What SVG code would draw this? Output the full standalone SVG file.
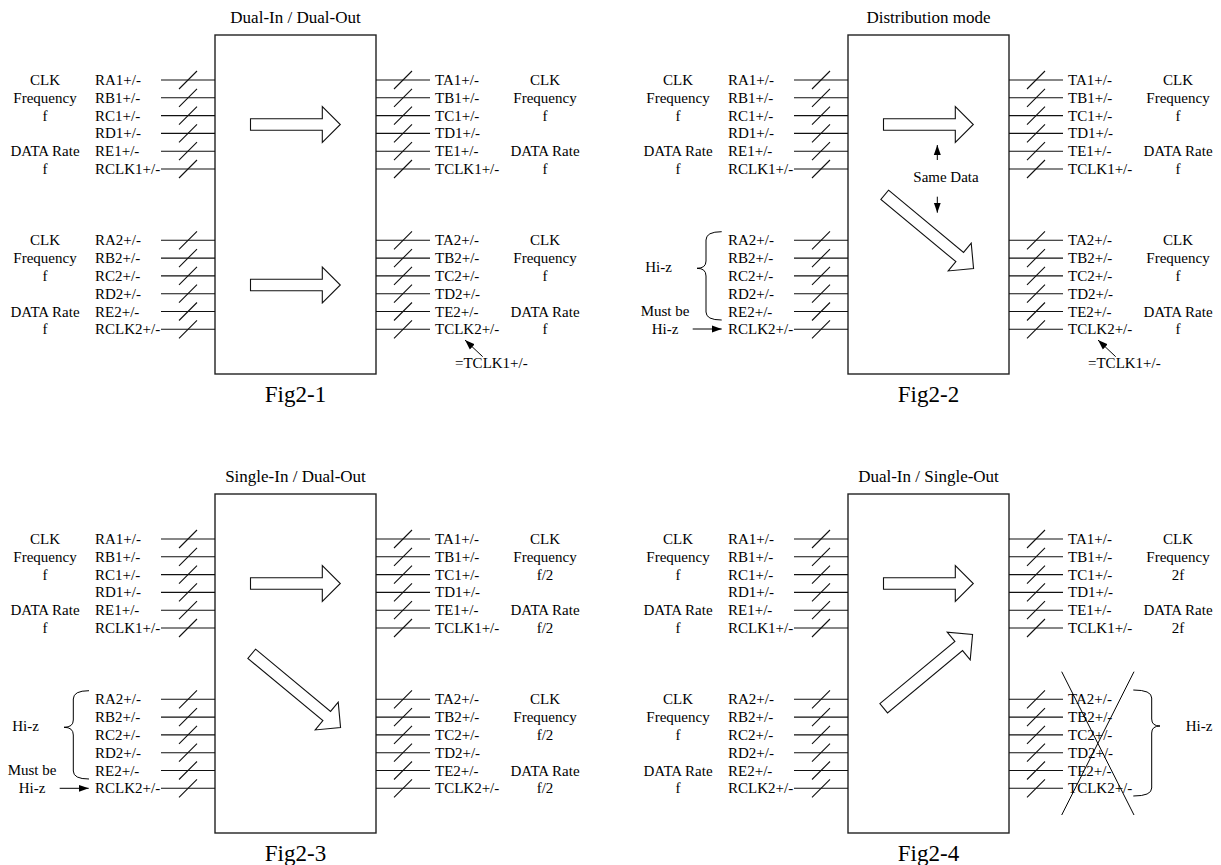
<svg xmlns="http://www.w3.org/2000/svg" xmlns:xlink="http://www.w3.org/1999/xlink" width="1221" height="865" viewBox="0 0 1221 865">
<style>
text{font-family:"Liberation Serif","Times New Roman",serif;fill:#000}
.lb{font-size:15px}
.c{text-anchor:middle}
.tt{font-size:17px;text-anchor:middle}
.fg{font-size:23px;text-anchor:middle}
.box{fill:#fff;stroke:#222;stroke-width:1.4}
.w{stroke:#111;stroke-width:1.1;fill:none}
.big{fill:#fff;stroke:#111;stroke-width:1.1}
.pt{stroke:#000;stroke-width:1;fill:none}
</style>
<defs>
<marker id="ah" viewBox="0 0 10 10" refX="10" refY="5" markerWidth="10" markerHeight="10" markerUnits="userSpaceOnUse" orient="auto"><path d="M0,1.5 L10,5 L0,8.5 Z" fill="#000"/></marker>
<g id="bus">
<path class="w" d="M0,0H54M0,17.8H54M0,35.6H54M0,53.4H54M0,71.2H54M0,89H54"/>
<path class="w" d="M18,9L36,-9M18,26.8L36,8.8M18,44.6L36,26.6M18,62.4L36,44.4M18,80.2L36,62.2M18,98L36,80"/>
</g>
<path id="harrow" class="big" d="M0,-5.8H71.8V-18L89.8,0L71.8,18V5.8H0Z"/>
<path id="darrow" class="big" d="M0,-6H97.5V-18L115.5,0L97.5,18V6H0Z"/>
</defs>

<!-- Fig2-1 -->
<g id="fig2-1">
<text class="tt" x="295.5" y="23">Dual-In / Dual-Out</text>
<rect id="box1" class="box" x="215" y="35" width="161" height="339"/>
<use xlink:href="#harrow" x="250.5" y="124.5"/>
<use xlink:href="#harrow" x="250.5" y="285"/>
<g class="lb">
<text x="95" y="85">RA1+/-</text><text x="95" y="102.8">RB1+/-</text><text x="95" y="120.6">RC1+/-</text><text x="95" y="138.4">RD1+/-</text><text x="95" y="156.2">RE1+/-</text><text x="95" y="174">RCLK1+/-</text>
<text x="95" y="245.3">RA2+/-</text><text x="95" y="263.1">RB2+/-</text><text x="95" y="280.9">RC2+/-</text><text x="95" y="298.7">RD2+/-</text><text x="95" y="316.5">RE2+/-</text><text x="95" y="334.3">RCLK2+/-</text>
<text x="435" y="85">TA1+/-</text><text x="435" y="102.8">TB1+/-</text><text x="435" y="120.6">TC1+/-</text><text x="435" y="138.4">TD1+/-</text><text x="435" y="156.2">TE1+/-</text><text x="435" y="174">TCLK1+/-</text>
<text x="435" y="245.3">TA2+/-</text><text x="435" y="263.1">TB2+/-</text><text x="435" y="280.9">TC2+/-</text><text x="435" y="298.7">TD2+/-</text><text x="435" y="316.5">TE2+/-</text><text x="435" y="334.3">TCLK2+/-</text>
<g class="c">
<text x="45" y="85">CLK</text><text x="45" y="102.8">Frequency</text><text x="45" y="120.6">f</text><text x="45" y="156.2">DATA Rate</text><text x="45" y="174">f</text>
<text x="45" y="245.3">CLK</text><text x="45" y="263.1">Frequency</text><text x="45" y="280.9">f</text><text x="45" y="316.5">DATA Rate</text><text x="45" y="334.3">f</text>
<text x="545" y="85">CLK</text><text x="545" y="102.8">Frequency</text><text x="545" y="120.6">f</text><text x="545" y="156.2">DATA Rate</text><text x="545" y="174">f</text>
<text x="545" y="245.3">CLK</text><text x="545" y="263.1">Frequency</text><text x="545" y="280.9">f</text><text x="545" y="316.5">DATA Rate</text><text x="545" y="334.3">f</text>
</g>
<text x="455" y="368.3">=TCLK1+/-</text>
</g>
<text class="fg" x="295.5" y="401.7">Fig2-1</text>
</g>

<!-- Fig2-2 -->
<g id="fig2-2">
<text class="tt" x="928.5" y="23">Distribution mode</text>
<rect id="box2" class="box" x="848" y="35" width="161" height="339"/>
<use xlink:href="#harrow" x="883.5" y="124.5"/>
<use xlink:href="#darrow" transform="translate(884.7,194.8) rotate(39.7)"/>
<path class="pt" d="M721.7,231.7Q706,231.7 706,240V261Q706,268.3 697,268.3Q706,268.3 706,276V312Q706,320 721.7,320"/>
<g class="lb">
<text class="c" x="946" y="181.7">Same Data</text>
<text x="728" y="85">RA1+/-</text><text x="728" y="102.8">RB1+/-</text><text x="728" y="120.6">RC1+/-</text><text x="728" y="138.4">RD1+/-</text><text x="728" y="156.2">RE1+/-</text><text x="728" y="174">RCLK1+/-</text>
<text x="728" y="245.3">RA2+/-</text><text x="728" y="263.1">RB2+/-</text><text x="728" y="280.9">RC2+/-</text><text x="728" y="298.7">RD2+/-</text><text x="728" y="316.5">RE2+/-</text><text x="728" y="334.3">RCLK2+/-</text>
<text x="1068" y="85">TA1+/-</text><text x="1068" y="102.8">TB1+/-</text><text x="1068" y="120.6">TC1+/-</text><text x="1068" y="138.4">TD1+/-</text><text x="1068" y="156.2">TE1+/-</text><text x="1068" y="174">TCLK1+/-</text>
<text x="1068" y="245.3">TA2+/-</text><text x="1068" y="263.1">TB2+/-</text><text x="1068" y="280.9">TC2+/-</text><text x="1068" y="298.7">TD2+/-</text><text x="1068" y="316.5">TE2+/-</text><text x="1068" y="334.3">TCLK2+/-</text>
<g class="c">
<text x="678" y="85">CLK</text><text x="678" y="102.8">Frequency</text><text x="678" y="120.6">f</text><text x="678" y="156.2">DATA Rate</text><text x="678" y="174">f</text>
<text x="658.5" y="271.5">Hi-z</text><text x="665" y="315.5">Must be</text><text x="665" y="334">Hi-z</text>
<text x="1178" y="85">CLK</text><text x="1178" y="102.8">Frequency</text><text x="1178" y="120.6">f</text><text x="1178" y="156.2">DATA Rate</text><text x="1178" y="174">f</text>
<text x="1178" y="245.3">CLK</text><text x="1178" y="263.1">Frequency</text><text x="1178" y="280.9">f</text><text x="1178" y="316.5">DATA Rate</text><text x="1178" y="334.3">f</text>
</g>
<text x="1088" y="368.3">=TCLK1+/-</text>
</g>
<text class="fg" x="928.5" y="401.7">Fig2-2</text>
</g>

<!-- Fig2-3 -->
<g id="fig2-3">
<text class="tt" x="295.5" y="482">Single-In / Dual-Out</text>
<rect id="box3" class="box" x="215" y="494" width="161" height="339"/>
<use xlink:href="#harrow" x="250.5" y="583.5"/>
<use xlink:href="#darrow" transform="translate(251.7,653.8) rotate(39.7)"/>
<path class="pt" d="M89,690.7Q73.3,690.7 73.3,699V720Q73.3,727.3 64,727.3Q73.3,727.3 73.3,735V771Q73.3,779 89,779"/>
<g class="lb">
<text x="95" y="544">RA1+/-</text><text x="95" y="561.8">RB1+/-</text><text x="95" y="579.6">RC1+/-</text><text x="95" y="597.4">RD1+/-</text><text x="95" y="615.2">RE1+/-</text><text x="95" y="633">RCLK1+/-</text>
<text x="95" y="704.3">RA2+/-</text><text x="95" y="722.1">RB2+/-</text><text x="95" y="739.9">RC2+/-</text><text x="95" y="757.7">RD2+/-</text><text x="95" y="775.5">RE2+/-</text><text x="95" y="793.3">RCLK2+/-</text>
<text x="435" y="544">TA1+/-</text><text x="435" y="561.8">TB1+/-</text><text x="435" y="579.6">TC1+/-</text><text x="435" y="597.4">TD1+/-</text><text x="435" y="615.2">TE1+/-</text><text x="435" y="633">TCLK1+/-</text>
<text x="435" y="704.3">TA2+/-</text><text x="435" y="722.1">TB2+/-</text><text x="435" y="739.9">TC2+/-</text><text x="435" y="757.7">TD2+/-</text><text x="435" y="775.5">TE2+/-</text><text x="435" y="793.3">TCLK2+/-</text>
<g class="c">
<text x="45" y="544">CLK</text><text x="45" y="561.8">Frequency</text><text x="45" y="579.6">f</text><text x="45" y="615.2">DATA Rate</text><text x="45" y="633">f</text>
<text x="25.5" y="730.5">Hi-z</text><text x="32" y="774.5">Must be</text><text x="32" y="793">Hi-z</text>
<text x="545" y="544">CLK</text><text x="545" y="561.8">Frequency</text><text x="545" y="579.6">f/2</text><text x="545" y="615.2">DATA Rate</text><text x="545" y="633">f/2</text>
<text x="545" y="704.3">CLK</text><text x="545" y="722.1">Frequency</text><text x="545" y="739.9">f/2</text><text x="545" y="775.5">DATA Rate</text><text x="545" y="793.3">f/2</text>
</g>
</g>
<text class="fg" x="295.5" y="860.7">Fig2-3</text>
</g>

<!-- Fig2-4 -->
<g id="fig2-4">
<text class="tt" x="928.5" y="482">Dual-In / Single-Out</text>
<rect id="box4" class="box" x="848" y="494" width="161" height="339"/>
<use xlink:href="#harrow" x="883.5" y="583.5"/>
<use xlink:href="#darrow" transform="translate(883.7,708.3) rotate(-39.7)"/>
<g class="lb">
<text x="728" y="544">RA1+/-</text><text x="728" y="561.8">RB1+/-</text><text x="728" y="579.6">RC1+/-</text><text x="728" y="597.4">RD1+/-</text><text x="728" y="615.2">RE1+/-</text><text x="728" y="633">RCLK1+/-</text>
<text x="728" y="704.3">RA2+/-</text><text x="728" y="722.1">RB2+/-</text><text x="728" y="739.9">RC2+/-</text><text x="728" y="757.7">RD2+/-</text><text x="728" y="775.5">RE2+/-</text><text x="728" y="793.3">RCLK2+/-</text>
<text x="1068" y="544">TA1+/-</text><text x="1068" y="561.8">TB1+/-</text><text x="1068" y="579.6">TC1+/-</text><text x="1068" y="597.4">TD1+/-</text><text x="1068" y="615.2">TE1+/-</text><text x="1068" y="633">TCLK1+/-</text>
<text x="1068" y="704.3">TA2+/-</text><text x="1068" y="722.1">TB2+/-</text><text x="1068" y="739.9">TC2+/-</text><text x="1068" y="757.7">TD2+/-</text><text x="1068" y="775.5">TE2+/-</text><text x="1068" y="793.3">TCLK2+/-</text>
<g class="c">
<text x="678" y="544">CLK</text><text x="678" y="561.8">Frequency</text><text x="678" y="579.6">f</text><text x="678" y="615.2">DATA Rate</text><text x="678" y="633">f</text>
<text x="678" y="704.3">CLK</text><text x="678" y="722.1">Frequency</text><text x="678" y="739.9">f</text><text x="678" y="775.5">DATA Rate</text><text x="678" y="793.3">f</text>
<text x="1178" y="544">CLK</text><text x="1178" y="561.8">Frequency</text><text x="1178" y="579.6">2f</text><text x="1178" y="615.2">DATA Rate</text><text x="1178" y="633">2f</text>
<text x="1199" y="730.5">Hi-z</text>
</g>
</g>
<path class="pt" d="M1061.7,671.7L1134,815M1134,671.7L1061.7,815"/>
<path class="pt" d="M1133.3,690Q1151.7,690 1151.7,698V719Q1151.7,726 1160,726Q1151.7,726 1151.7,733V788Q1151.7,796 1133.3,796"/>
<text class="fg" x="928.5" y="860.7">Fig2-4</text>
</g>

<g id="connectors">
<use xlink:href="#bus" x="161" y="80"/><use xlink:href="#bus" x="161" y="240.3"/>
<use xlink:href="#bus" x="376" y="80"/><use xlink:href="#bus" x="376" y="240.3"/>
<use xlink:href="#bus" x="794" y="80"/><use xlink:href="#bus" x="794" y="240.3"/>
<use xlink:href="#bus" x="1009" y="80"/><use xlink:href="#bus" x="1009" y="240.3"/>
<use xlink:href="#bus" x="161" y="539"/><use xlink:href="#bus" x="161" y="699.3"/>
<use xlink:href="#bus" x="376" y="539"/><use xlink:href="#bus" x="376" y="699.3"/>
<use xlink:href="#bus" x="794" y="539"/><use xlink:href="#bus" x="794" y="699.3"/>
<use xlink:href="#bus" x="1009" y="539"/><use xlink:href="#bus" x="1009" y="699.3"/>
<line class="pt" x1="482.7" y1="356.7" x2="465" y2="340" marker-end="url(#ah)"/>
<line class="pt" x1="1115.7" y1="356.7" x2="1098" y2="340" marker-end="url(#ah)"/>
<line class="pt" x1="692.7" y1="329" x2="721.7" y2="329" marker-end="url(#ah)"/>
<line class="pt" x1="59.7" y1="788.3" x2="88.7" y2="788.3" marker-end="url(#ah)"/>
<line class="pt" x1="937.3" y1="160" x2="937.3" y2="145" marker-end="url(#ah)"/>
<line class="pt" x1="937.3" y1="196.7" x2="937.3" y2="212.7" marker-end="url(#ah)"/>
</g>
</svg>
